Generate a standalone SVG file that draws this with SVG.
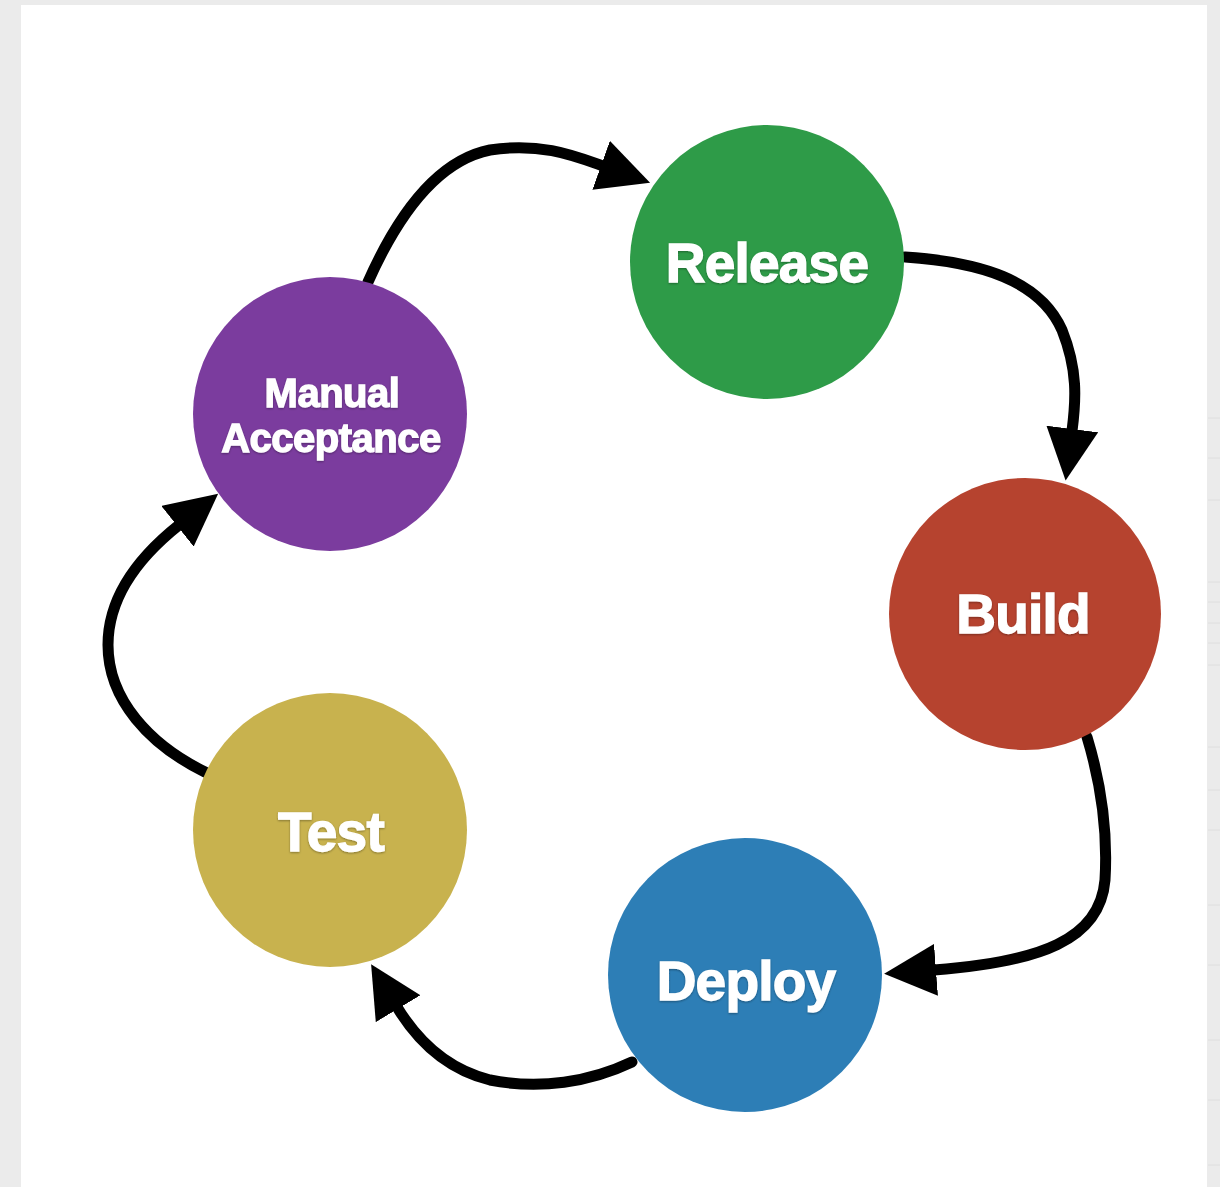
<svg xmlns="http://www.w3.org/2000/svg" width="1220" height="1187" viewBox="0 0 1220 1187">
  <style>
    .node-label { font-family: "Liberation Sans", Arial, Helvetica, sans-serif; font-weight: bold; fill: #ffffff; stroke: #ffffff; stroke-width: 1.3px; text-anchor: middle; }
    .big { font-size: 55px; letter-spacing: -0.8px; }
    .small { font-size: 40px; letter-spacing: -0.5px; }
    .conn { fill: none; stroke: #000000; stroke-width: 11; stroke-linecap: round; }
    .edge-line { stroke: #dedede; stroke-width: 1; }
  </style>
  <defs>
    <marker id="arrow" viewBox="0 0 52 52" refX="2" refY="26" markerWidth="52" markerHeight="52" markerUnits="userSpaceOnUse" orient="auto">
      <path d="M0,0 L52,26 L0,52 Z" fill="#000000"/>
    </marker>
    <filter id="shadow" x="-20%" y="-20%" width="140%" height="140%">
      <feDropShadow dx="0" dy="1" stdDeviation="1.2" flood-color="#000000" flood-opacity="0.35"/>
    </filter>
  </defs>

  <!-- background -->
  <rect x="0" y="0" width="1220" height="1187" fill="#ebebeb"/>
  <rect x="21" y="5" width="1186" height="1182" fill="#ffffff"/>
  <g id="edge-marks">
    <line class="edge-line" x1="1208" y1="418" x2="1220" y2="418"/>
    <line class="edge-line" x1="1208" y1="458" x2="1220" y2="458"/>
    <line class="edge-line" x1="1208" y1="500" x2="1220" y2="500"/>
    <line class="edge-line" x1="1208" y1="582" x2="1220" y2="582"/>
    <line class="edge-line" x1="1208" y1="602" x2="1220" y2="602"/>
    <line class="edge-line" x1="1208" y1="623" x2="1220" y2="623"/>
    <line class="edge-line" x1="1208" y1="643" x2="1220" y2="643"/>
    <line class="edge-line" x1="1208" y1="665" x2="1220" y2="665"/>
    <line class="edge-line" x1="1208" y1="747" x2="1220" y2="747"/>
    <line class="edge-line" x1="1208" y1="790" x2="1220" y2="790"/>
    <line class="edge-line" x1="1208" y1="830" x2="1220" y2="830"/>
    <line class="edge-line" x1="1208" y1="905" x2="1220" y2="905"/>
    <line class="edge-line" x1="1208" y1="965" x2="1220" y2="965"/>
    <line class="edge-line" x1="1208" y1="1040" x2="1220" y2="1040"/>
    <line class="edge-line" x1="1208" y1="1100" x2="1220" y2="1100"/>
    <line class="edge-line" x1="1208" y1="1165" x2="1220" y2="1165"/>
  </g>

  <!-- connectors -->
  <g id="connectors">
    <path class="conn" marker-end="url(#arrow)" d="M368,282 C400,210 440,160 490,150 C540,142 575,156 603,166"/>
    <path class="conn" marker-end="url(#arrow)" d="M905,257 C980,262 1040,280 1062,330 C1078,370 1076,400 1072,431"/>
    <path class="conn" marker-end="url(#arrow)" d="M1087,737 C1100,780 1108,830 1105,880 C1100,940 1040,962 934,970"/>
    <path class="conn" marker-end="url(#arrow)" d="M632,1062 C590,1082 540,1090 490,1080 C450,1070 420,1045 397,1007"/>
    <path class="conn" marker-end="url(#arrow)" d="M205,772 C150,745 108,700 108,645 C108,600 135,560 179,525"/>
  </g>

  <!-- nodes -->
  <g id="node-release">
    <circle cx="767" cy="262" r="137" fill="#2e9b48"/>
    <text class="node-label big" x="767" y="282" filter="url(#shadow)">Release</text>
  </g>
  <g id="node-build">
    <circle cx="1025" cy="614" r="136" fill="#b6432f"/>
    <text class="node-label big" x="1023" y="633" filter="url(#shadow)">Build</text>
  </g>
  <g id="node-deploy">
    <circle cx="745" cy="975" r="137" fill="#2d7eb6"/>
    <text class="node-label big" x="746" y="1000" filter="url(#shadow)">Deploy</text>
  </g>
  <g id="node-test">
    <circle cx="330" cy="830" r="137" fill="#c8b24e"/>
    <text class="node-label big" x="331" y="851" filter="url(#shadow)">Test</text>
  </g>
  <g id="node-manual-acceptance">
    <circle cx="330" cy="414" r="137" fill="#7b3c9e"/>
    <text class="node-label small" x="332" y="407" filter="url(#shadow)">Manual</text>
    <text class="node-label small" x="331" y="452" filter="url(#shadow)">Acceptance</text>
  </g>
</svg>
